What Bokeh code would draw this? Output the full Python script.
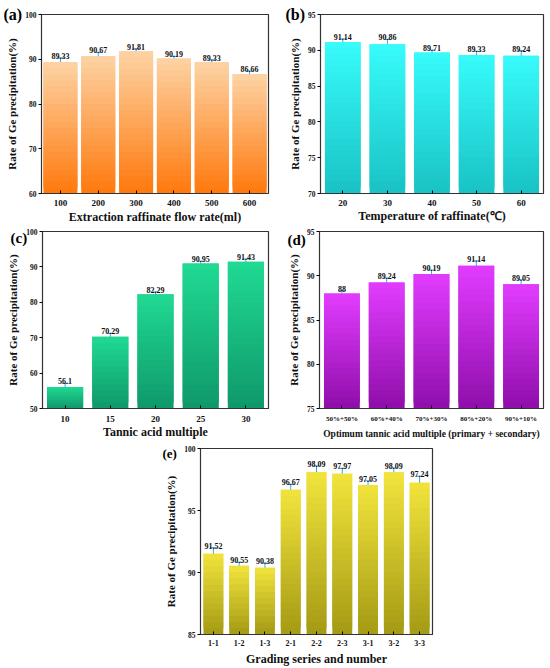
from bokeh.plotting import figure
from bokeh.layouts import column, row
from bokeh.models import ColumnDataSource, Whisker, TeeHead, Range1d, Spacer, FixedTicker, Title
from bokeh.core.properties import value
from bokeh.embed import file_html
from bokeh.resources import INLINE

# ---------------- data ----------------
a_cats = ["100", "200", "300", "400", "500", "600"]
a_vals = [89.33, 90.67, 91.81, 90.19, 89.33, 86.66]
a_errs = [1.0, 0.85, 0.55, 0.45, 0.55, 0.7]
a_labels = ["89.33", "90.67", "91.81", "90.19", "89.33", "86.66"]

b_cats = ["20", "30", "40", "50", "60"]
b_vals = [91.14, 90.86, 89.71, 89.33, 89.24]
b_errs = [0.45, 0.65, 0.32, 0.52, 0.73]
b_labels = ["91.14", "90.86", "89.71", "89.33", "89.24"]

c_cats = ["10", "15", "20", "25", "30"]
c_vals = [56.1, 70.29, 82.29, 90.95, 91.43]
c_errs = [1.0, 0.9, 0.65, 0.65, 0.8]
c_labels = ["56.1", "70.29", "82.29", "90.95", "91.43"]

d_cats = ["50%+50%", "60%+40%", "70%+30%", "80%+20%", "90%+10%"]
d_vals = [88.0, 89.24, 90.19, 91.14, 89.05]
d_errs = [0.3, 0.5, 0.45, 0.55, 0.5]
d_labels = ["88", "89.24", "90.19", "91.14", "89.05"]

e_cats = ["1-1", "1-2", "1-3", "2-1", "2-2", "2-3", "3-1", "3-2", "3-3"]
e_vals = [91.52, 90.55, 90.38, 96.67, 98.09, 97.97, 97.05, 98.09, 97.24]
e_errs = [0.48, 0.27, 0.38, 0.43, 0.5, 0.43, 0.34, 0.34, 0.52]
e_labels = ["91.52", "90.55", "90.38", "96.67", "98.09", "97.97", "97.05", "98.09", "97.24"]

YLABEL = "Rate of Ge precipitation(%)"
FONT = "Liberation Serif"
ERR_COLOR = "#3aa6e8"


def hex2rgb(h):
    h = h.lstrip("#")
    return tuple(int(h[i:i + 2], 16) for i in (0, 2, 4))


def lerp(c0, c1, t):
    a, b = hex2rgb(c0), hex2rgb(c1)
    return "#%02x%02x%02x" % tuple(int(round(a[i] + (b[i] - a[i]) * t)) for i in range(3))


def panel(cats, vals, errs, labels, ystart, yend, yticks, xlabel, tag,
          top_col, bot_col, width, height, borders, bar_w=0.8,
          xtick_size="9px", xlabel_size="12px", tag_size="16px", tag_off=-38, tag_drop=8,
          xl_standoff=1, xt_standoff=6, yl_standoff=4):
    bl, br, bt, bb = borders
    p = figure(x_range=cats, y_range=Range1d(ystart, yend), width=width, height=height,
               output_backend="svg", toolbar_location=None,
               min_border_left=bl, min_border_right=br, min_border_top=bt, min_border_bottom=bb)
    # gradient bars built from slices of each bar
    xs, bots, tops, cols = [], [], [], []
    for c, v in zip(cats, vals):
        n = max(8, int(round(30 * (v - ystart) / (yend - ystart))))
        h = (v - ystart) / n
        for k in range(n):
            xs.append(c)
            bots.append(ystart + k * h)
            tops.append(ystart + (k + 1) * h + (h if k < n - 1 else 0))
            cols.append(lerp(bot_col, top_col, (k + 0.5) / n))
    p.vbar(x=xs, bottom=bots, top=tops, width=bar_w, fill_color=cols, line_color=None)

    src = ColumnDataSource(dict(x=cats, v=vals,
                                up=[v + e for v, e in zip(vals, errs)],
                                lo=[v - e for v, e in zip(vals, errs)],
                                lab=labels))
    w = Whisker(base="x", upper="up", lower="lo", source=src, line_color=ERR_COLOR, line_width=1,
                upper_head=TeeHead(size=7, line_color=ERR_COLOR, line_width=1),
                lower_head=TeeHead(size=7, line_color=ERR_COLOR, line_width=1))
    p.add_layout(w)
    p.text(x="x", y="up", text="lab", source=src, text_align="center", text_baseline="alphabetic",
           y_offset=-2, text_font=value(FONT), text_font_style="bold", text_font_size="8px",
           text_color="#111111")

    # panel tag as a title placed left of the frame, straddling its top edge
    t = Title(text=tag, align="left", offset=tag_off, text_font=FONT, text_font_style="bold",
              text_font_size=tag_size, text_color="#000000", vertical_align="bottom")
    try:
        t.standoff = -2 * tag_drop
    except Exception:
        t.standoff = 0
    p.add_layout(t, "above")

    p.xgrid.visible = False
    p.ygrid.visible = False
    p.x_range.range_padding = 0
    p.outline_line_color = "#333333"
    p.outline_line_width = 1.2
    p.background_fill_color = "white"
    p.border_fill_color = "white"

    p.yaxis.ticker = FixedTicker(ticks=yticks)
    p.yaxis.minor_tick_line_color = None
    p.yaxis.major_tick_out = 3
    p.yaxis.major_tick_in = 0
    p.yaxis.major_label_standoff = 2
    p.yaxis.major_label_text_font = FONT
    p.yaxis.major_label_text_font_style = "bold"
    p.yaxis.major_label_text_font_size = "7.5px"
    p.yaxis.axis_label = YLABEL
    p.yaxis.axis_label_text_font = FONT
    p.yaxis.axis_label_text_font_style = "bold"
    p.yaxis.axis_label_text_font_size = "11px"
    p.yaxis.axis_label_standoff = yl_standoff
    p.yaxis.axis_line_color = "#333333"

    p.xaxis.major_tick_out = 0
    p.xaxis.major_tick_in = 3
    p.xaxis.major_label_standoff = xt_standoff
    p.xaxis.major_label_text_font = FONT
    p.xaxis.major_label_text_font_style = "bold"
    p.xaxis.major_label_text_font_size = xtick_size
    p.xaxis.axis_label = xlabel
    p.xaxis.axis_label_text_font = FONT
    p.xaxis.axis_label_text_font_style = "bold"
    p.xaxis.axis_label_text_font_size = xlabel_size
    p.xaxis.axis_label_standoff = xl_standoff
    p.xaxis.axis_line_color = "#333333"
    for ax in (p.xaxis, p.yaxis):
        ax.major_label_text_color = "#111111"
        ax.axis_label_text_color = "#111111"
    return p


pa = panel(a_cats, a_vals, a_errs, a_labels, 60, 100, [60, 70, 80, 90, 100],
           "Extraction raffinate flow rate(ml)", "(a)", "#fdd3a4", "#ff780c",
           275, 226, (41, 7, 14, 32), bar_w=0.9, tag_off=-38, tag_drop=8)
pb = panel(b_cats, b_vals, b_errs, b_labels, 70, 95, [70, 75, 80, 85, 90, 95],
           "Temperature of raffinate(\u2103)", "(b)", "#38fbfb", "#19c2c4",
           275, 226, (45, 7, 14, 33), tag_off=-35, tag_drop=8, xl_standoff=0)
pc = panel(c_cats, c_vals, c_errs, c_labels, 50, 100, [50, 60, 70, 80, 90, 100],
           "Tannic acid multiple", "(c)", "#20da93", "#0f986a",
           275, 216, (42, 7, 5, 30), tag_size="15px", tag_off=-32, tag_drop=14,
           xt_standoff=7, xl_standoff=0)
pd = panel(d_cats, d_vals, d_errs, d_labels, 75, 95, [75, 80, 85, 90, 95],
           "Optimum tannic acid multiple (primary + secondary)", "(d)", "#e23cff", "#8e0eaa",
           275, 216, (44, 7, 3, 34), xtick_size="7px", xlabel_size="9.5px", tag_size="15px",
           tag_off=-32, tag_drop=16, xl_standoff=3)
pe = panel(e_cats, e_vals, e_errs, e_labels, 85, 100, [85, 90, 95, 100],
           "Grading series and number", "(e)", "#f2e43c", "#a49a14",
           290, 226, (50, 8, 6, 33), bar_w=0.77, xtick_size="8px", tag_size="13px", tag_off=-38,
           tag_drop=12, xt_standoff=5, xl_standoff=3)

layout = column(row(pa, pb), row(pc, pd), row(Spacer(width=150, height=226), pe))

open("out.html", "w").write(file_html(layout, INLINE))
